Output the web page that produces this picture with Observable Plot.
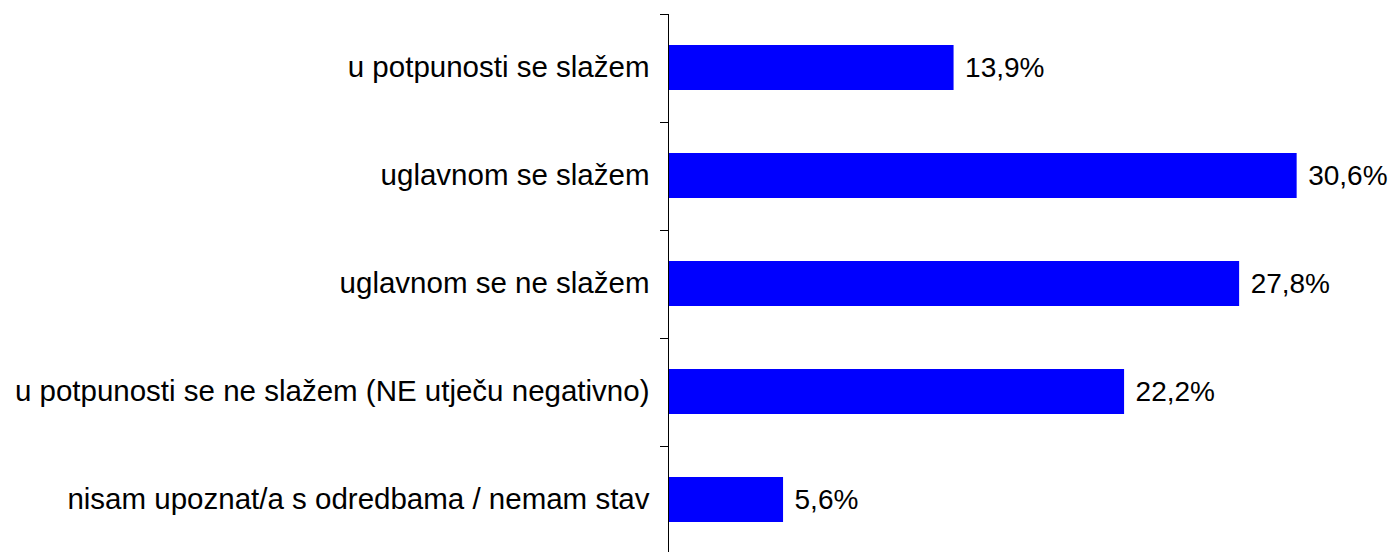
<!DOCTYPE html>
<html><head><meta charset="utf-8">
<script src="https://cdn.jsdelivr.net/npm/d3@7"></script>
<script src="https://cdn.jsdelivr.net/npm/@observablehq/plot@0.6"></script>
<style>body{margin:0;background:#fff;font-family:"Liberation Sans",Arial,sans-serif}</style>
</head><body><div id="chart"></div>
<script>
const categories = [
  "u potpunosti se slažem",
  "uglavnom se slažem",
  "uglavnom se ne slažem",
  "u potpunosti se ne slažem (NE utječu negativno)",
  "nisam upoznat/a s odredbama / nemam stav"
];
const values = [13.9, 30.6, 27.8, 22.2, 5.6];
const data = categories.map((c, i) => ({category: c, value: values[i]}));
const fmt = v => v.toFixed(1).replace(".", ",") + "%";

const boundaryTicks = Plot.ruleY(categories, {
  y: d => d,
  render(index, scales, vals, dims) {
    const y = scales.y;
    const ys = categories.map(c => y(c));
    let bw = typeof y.bandwidth === "function" ? y.bandwidth() : y.bandwidth;
    let step = typeof y.step === "function" ? y.step() : (ys[1] - ys[0]);
    const off = (step - bw) / 2;
    const x0 = scales.x(0);
    const g = d3.create("svg:g").attr("stroke", "#000").attr("stroke-width", 1);
    ys.forEach(v => {
      const yy = Math.round(v - off) + 0.5;
      g.append("line").attr("x1", x0 - 8).attr("x2", x0).attr("y1", yy).attr("y2", yy);
    });
    return g.node();
  }
});

const chart = Plot.plot({
  width: 1396,
  height: 552,
  marginLeft: 668,
  marginRight: 29.5,
  marginTop: 14,
  marginBottom: -2,
  style: {fontFamily: "'Liberation Sans', Arial, sans-serif", color: "#000", background: "#fff"},
  x: {domain: [0, 34], axis: null},
  y: {domain: categories, paddingInner: 0.58, paddingOuter: 0.29, label: null},
  marks: [
    Plot.barX(data, {x: "value", y: "category", fill: "#0000ff"}),
    Plot.axisY({tickSize: 0, tickPadding: 19, fontSize: 29.5, label: null}),
    Plot.ruleX([0], {stroke: "#000", strokeWidth: 1}),
    boundaryTicks,
    Plot.text(data, {x: "value", y: "category", text: d => fmt(d.value), textAnchor: "start", dx: 11, fontSize: 28, fill: "#000"})
  ]
});
document.getElementById("chart").appendChild(chart);
</script>
</body></html>
